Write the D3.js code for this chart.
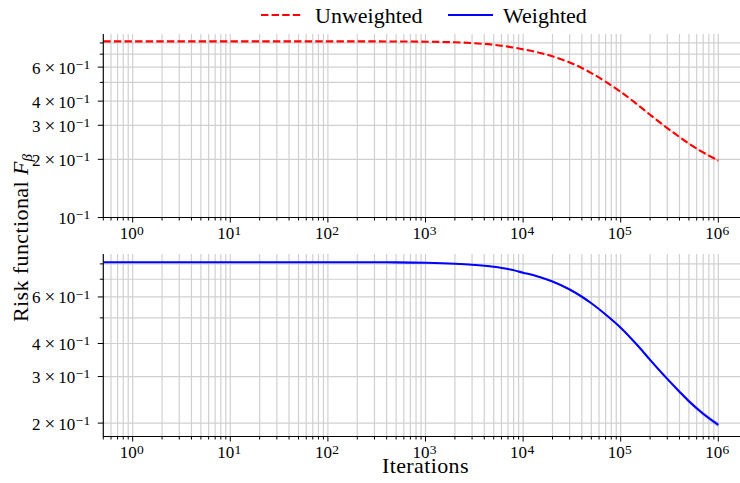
<!DOCTYPE html>
<html>
<head>
<meta charset="utf-8">
<script src="https://cdn.jsdelivr.net/npm/d3@7"></script>
<style>
  html, body { margin: 0; padding: 0; background: #fff; }
  svg { display: block; font-family: "Liberation Serif", "Times New Roman", serif; }
</style>
</head>
<body>
<svg id="chart" width="740" height="483"></svg>
<script>
// ---- data ----
const iterations = [0.5, 1, 2, 5, 10, 20, 50, 100, 200, 500, 1000, 2000, 3000, 5000, 7000, 10000, 15000, 20000, 30000, 40000, 50000, 70000, 100000, 150000, 200000, 300000, 400000, 500000, 700000, 1000000];
const unweighted = [0.815, 0.815, 0.815, 0.815, 0.815, 0.815, 0.815, 0.815, 0.815, 0.814, 0.812, 0.806, 0.799, 0.783, 0.766, 0.741, 0.710, 0.682, 0.634, 0.594, 0.559, 0.504, 0.447, 0.382, 0.340, 0.290, 0.261, 0.241, 0.217, 0.197];
const weighted   = [0.812, 0.812, 0.812, 0.812, 0.812, 0.812, 0.812, 0.812, 0.812, 0.811, 0.808, 0.801, 0.794, 0.780, 0.765, 0.741, 0.712, 0.686, 0.640, 0.601, 0.568, 0.515, 0.459, 0.392, 0.347, 0.294, 0.263, 0.242, 0.217, 0.197];
const unweightedSpread = [0, 0, 0, 0, 0, 0, 0, 0, 0, 0, 0, 0, 0, 0, 0, 0.001, 0.001, 0.002, 0.002, 0.002, 0.002, 0.002, 0.003, 0.003, 0.003, 0.003, 0.003, 0.003, 0.003, 0.003];
const weightedSpread   = [0, 0, 0, 0, 0, 0, 0, 0, 0, 0, 0, 0, 0, 0, 0, 0.001, 0.001, 0.002, 0.002, 0.002, 0.002, 0.003, 0.003, 0.003, 0.004, 0.004, 0.004, 0.004, 0.004, 0.004];
const seriesNames = ["Unweighted", "Weighted"];
const xMajorExponents = [0, 1, 2, 3, 4, 5, 6];
const yTopLabeled = [0.1, 0.2, 0.3, 0.4, 0.6];
const yBottomLabeled = [0.2, 0.3, 0.4, 0.6];

// ---- layout ----
const svg = d3.select("#chart");
svg.append("rect").attr("width", 740).attr("height", 483).attr("fill", "#fff");

const left = 103.3, right = 747.7;
const x = d3.scaleLog().domain([0.5, 2e6]).range([left, right]);

const panels = [
  { y: d3.scaleLog().domain([0.1, 0.89]).range([217.5, 34]), values: unweighted, spread: unweightedSpread,
    color: "#ff0000", dash: "7.4,3.2", labeled: yTopLabeled },
  { y: d3.scaleLog().domain([0.178, 0.872]).range([436.5, 254]), values: weighted, spread: weightedSpread,
    color: "#0000ff", dash: null, labeled: yBottomLabeled }
];

const xTicksAll = [];
for (let e = -1; e <= 6; e++) for (let m = 1; m <= 9; m++) {
  const v = m * Math.pow(10, e);
  if (v >= 0.5 && v <= 2e6) xTicksAll.push(v);
}
const isMajorX = v => xMajorExponents.some(e => Math.abs(v - Math.pow(10, e)) < 1e-9 * Math.pow(10, e));

const TICK_FS = 17, SUP_FS = 13.5, SUP_RAISE = 4.6;

function txt(parent, tx, ty, s, fs, anchor) {
  return parent.append("text").attr("x", tx).attr("y", ty).attr("font-size", fs)
    .attr("text-anchor", anchor || "start").attr("fill", "#000").text(s);
}

panels.forEach((p, pi) => {
  const y = p.y;
  const [yb, yt] = y.range();
  const g = svg.append("g");
  const clipId = "clip" + pi;
  svg.append("clipPath").attr("id", clipId).append("rect")
    .attr("x", left).attr("y", yt).attr("width", right - left).attr("height", yb - yt);

  const [d0, d1] = y.domain();
  const yTicksAll = [];
  for (let e = -2; e <= 0; e++) for (let m = 1; m <= 9; m++) {
    const v = +(m * Math.pow(10, e)).toFixed(6);
    if (v >= d0 - 1e-9 && v <= d1) yTicksAll.push(v);
  }

  // grid
  g.append("g").selectAll("line").data(xTicksAll).join("line")
    .attr("x1", d => x(d)).attr("x2", d => x(d)).attr("y1", yt).attr("y2", yb)
    .attr("stroke", "#d0d0d0").attr("stroke-width", 1.2);
  g.append("g").selectAll("line").data(yTicksAll).join("line")
    .attr("x1", left).attr("x2", right).attr("y1", d => y(d)).attr("y2", d => y(d))
    .attr("stroke", "#d0d0d0").attr("stroke-width", 1.2);

  // band
  const area = d3.area()
    .x((d, i) => x(iterations[i]))
    .y0((d, i) => y(p.values[i] - p.spread[i]))
    .y1((d, i) => y(p.values[i] + p.spread[i]))
    .curve(d3.curveMonotoneX);
  g.append("path").datum(p.values).attr("d", area)
    .attr("fill", p.color).attr("fill-opacity", 0.2).attr("clip-path", `url(#${clipId})`);

  // line
  const line = d3.line()
    .x((d, i) => x(iterations[i]))
    .y(d => y(d))
    .curve(d3.curveMonotoneX);
  g.append("path").datum(p.values).attr("d", line)
    .attr("fill", "none").attr("stroke", p.color).attr("stroke-width", 2.1)
    .attr("stroke-dasharray", p.dash).attr("clip-path", `url(#${clipId})`);

  // spines
  g.append("line").attr("x1", left).attr("x2", left).attr("y1", yt).attr("y2", yb + 0.5)
    .attr("stroke", "#000").attr("stroke-width", 1.1);
  g.append("line").attr("x1", left).attr("x2", right).attr("y1", yb).attr("y2", yb)
    .attr("stroke", "#000").attr("stroke-width", 1.1);

  // x tick marks
  g.append("g").selectAll("line").data(xTicksAll).join("line")
    .attr("x1", d => x(d)).attr("x2", d => x(d)).attr("y1", yb)
    .attr("y2", d => yb + (isMajorX(d) ? 5 : 3))
    .attr("stroke", "#000").attr("stroke-width", 1);
  // x tick labels: "10" + superscript exponent
  xMajorExponents.forEach(e => {
    const cx = x(Math.pow(10, e));
    const base = yb + 21.8;
    const lg = g.append("g");
    txt(lg, cx + 4, base, "10", TICK_FS, "end");
    txt(lg, cx + 4.3, base - SUP_RAISE, String(e), SUP_FS, "start");
  });

  // y tick marks
  const isLabeled = v => p.labeled.some(l => Math.abs(l - v) < 1e-9);
  g.append("g").selectAll("line").data(yTicksAll).join("line")
    .attr("x1", d => left - (isLabeled(d) ? 5.5 : 3.5)).attr("x2", left)
    .attr("y1", d => y(d)).attr("y2", d => y(d))
    .attr("stroke", "#000").attr("stroke-width", 1);
  // y tick labels: "m × 10" + superscript "−1"
  p.labeled.forEach(v => {
    const mant = Math.round(v * 10);
    const base = y(v) + 6.5;
    const lg = g.append("g");
    if (mant !== 1) {
      txt(lg, 32, base, String(mant), TICK_FS);
      txt(lg, 44.6, base, "\u00d7", 19);
    }
    txt(lg, 75.3, base, "10", TICK_FS, "end");
    txt(lg, 75.8, base - SUP_RAISE, "\u22121", SUP_FS, "start");
  });
});

// axis labels
svg.append("text").attr("x", 382).attr("y", 473)
  .attr("font-size", 22).attr("textLength", 86.5).attr("lengthAdjust", "spacing")
  .attr("fill", "#000").text("Iterations");

const yl = svg.append("text").attr("transform", "translate(28,322) rotate(-90)")
  .attr("font-size", 22).attr("fill", "#000");
yl.append("tspan").attr("letter-spacing", 0.4).text("Risk functional ");
yl.append("tspan").attr("font-style", "italic").text("F");
yl.append("tspan").attr("font-style", "italic").attr("font-size", 15).attr("dy", 4).text("\u03b2");

// legend
const legendItems = [
  { name: seriesNames[0], color: "#ff0000", dash: "7.4,3.2", x1: 261, x2: 303, tx: 315 },
  { name: seriesNames[1], color: "#0000ff", dash: null, x1: 448, x2: 493, tx: 503 }
];
legendItems.forEach(it => {
  svg.append("line").attr("x1", it.x1).attr("x2", it.x2).attr("y1", 15).attr("y2", 15)
    .attr("stroke", it.color).attr("stroke-width", 2.1).attr("stroke-dasharray", it.dash);
  svg.append("text").attr("x", it.tx).attr("y", 23).attr("font-size", 22).attr("fill", "#000").text(it.name);
});
</script>
</body>
</html>
